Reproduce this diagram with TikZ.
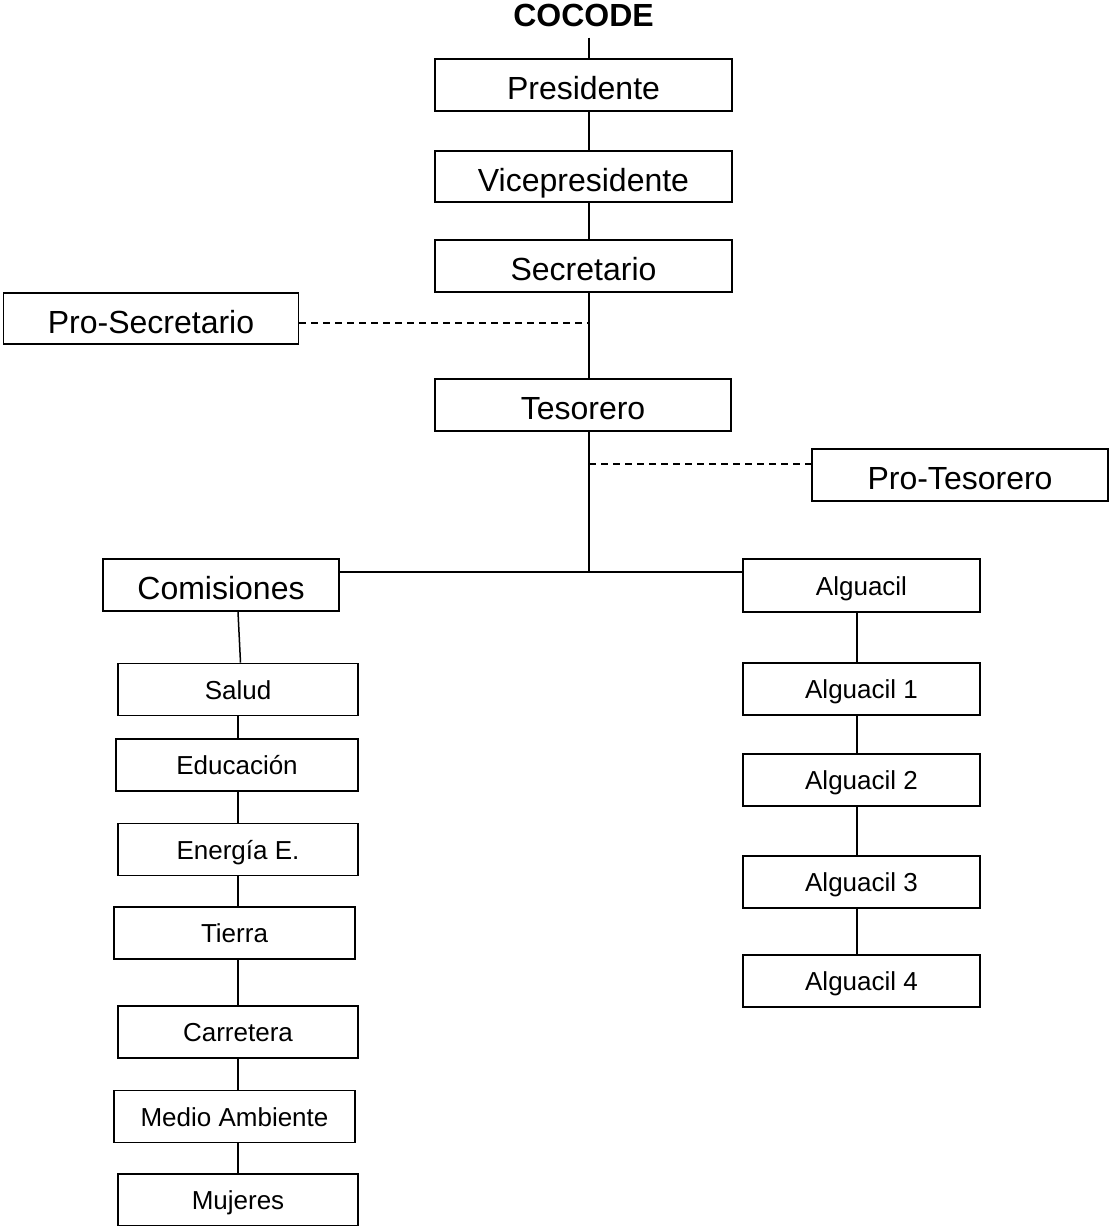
\documentclass[tikz,border=0pt]{standalone}
\usepackage{fontspec}
\setmainfont{Liberation Sans}
\usetikzlibrary{positioning}

\begin{document}
\begin{tikzpicture}[x=1pt,y=-1pt,
    box/.style={draw,line width=1.8pt,inner sep=0pt,minimum height=52pt},
    bigtext/.style={font=\fontsize{32}{36}\selectfont,text height=30pt,text depth=1pt},
    smalltext/.style={font=\fontsize{26}{30}\selectfont,text height=20pt,text depth=1pt},
    link/.style={line width=1.5pt},
    dashlink/.style={line width=1.5pt,dash pattern=on 7pt off 5pt}]
  \useasboundingbox (0,0) rectangle (1109,1226);

  % ====== Junta directiva (main column) ======
  \node[font=\bfseries\fontsize{32}{36}\selectfont,inner xsep=0pt,inner ysep=10pt,anchor=base]
    (cocode) at (583.5,27) {COCODE};
  \node[box,bigtext,minimum width=297pt] (pres) at (583.5,85) {Presidente};
  \node[box,bigtext,minimum width=297pt,minimum height=51pt] (vice) at (583.5,176.5) {Vicepresidente};
  \node[box,bigtext,minimum width=297pt] (secr) at (583.5,266) {Secretario};
  \node[box,bigtext,minimum width=296pt] (teso) at (583,405) {Tesorero};
  \node[box,bigtext,minimum width=295pt,minimum height=51pt] (prosecr) at (151,318.5) {Pro-Secretario};
  \node[box,bigtext,minimum width=296pt] (proteso) at (960,475) {Pro-Tesorero};

  \coordinate (spine) at (589,0);
  \coordinate (dsec) at (589,323);
  \coordinate (dteso) at (589,464);
  \coordinate (junc) at (589,572);

  \draw[link] (cocode.south -| spine) -- (pres.north -| spine);
  \draw[link] (pres.south -| spine) -- (vice.north -| spine);
  \draw[link] (vice.south -| spine) -- (secr.north -| spine);
  \draw[link] (secr.south -| spine) -- (teso.north -| spine);
  \draw[link] (teso.south -| spine) -- (junc);
  \draw[dashlink] (prosecr.east |- dsec) -- (dsec);     % pro-secretario
  \draw[dashlink] (dteso) -- (proteso.west |- dteso);   % pro-tesorero

  % ====== Branches ======
  \node[box,bigtext,minimum width=236pt] (comis) at (221,585) {Comisiones};
  \node[box,smalltext,minimum width=237pt,minimum height=53pt] (alg) at (861.5,585.5) {Alguacil};
  \draw[link] (comis.east |- junc) -- (alg.west |- junc);

  % ====== Comisiones ======
  \coordinate (lcol) at (238,0);
  \foreach \name/\x/\y/\w/\txt in {salud/238/689.5/240/Salud,
      educ/237/765/242/Educación, energ/238/849.5/240/Energía E.,
      tierra/234.5/933/241/Tierra, carre/238/1032/240/Carretera,
      medio/234.5/1116.5/241/Medio Ambiente, mujer/238/1200/240/Mujeres}{
    \node[box,smalltext,minimum width=\w pt] (\name) at (\x,\y) {\txt};
  }
  \draw[link] (salud.north |- comis.south) -- ([xshift=2.5pt]salud.north);
  \foreach \a/\b in {salud/educ,educ/energ,energ/tierra,tierra/carre,carre/medio,medio/mujer}{
    \draw[link] (\a.south -| lcol) -- (\b.north -| lcol);
  }

  % ====== Alguaciles ======
  \coordinate (rcol) at (857,0);
  \foreach \i/\y in {1/689,2/780,3/882,4/981}{
    \node[box,smalltext,minimum width=237pt] (alg\i) at (861.5,\y) {Alguacil \i};
  }
  \foreach \a/\b in {alg/alg1,alg1/alg2,alg2/alg3,alg3/alg4}{
    \draw[link] (\a.south -| rcol) -- (\b.north -| rcol);
  }
\end{tikzpicture}
\end{document}
